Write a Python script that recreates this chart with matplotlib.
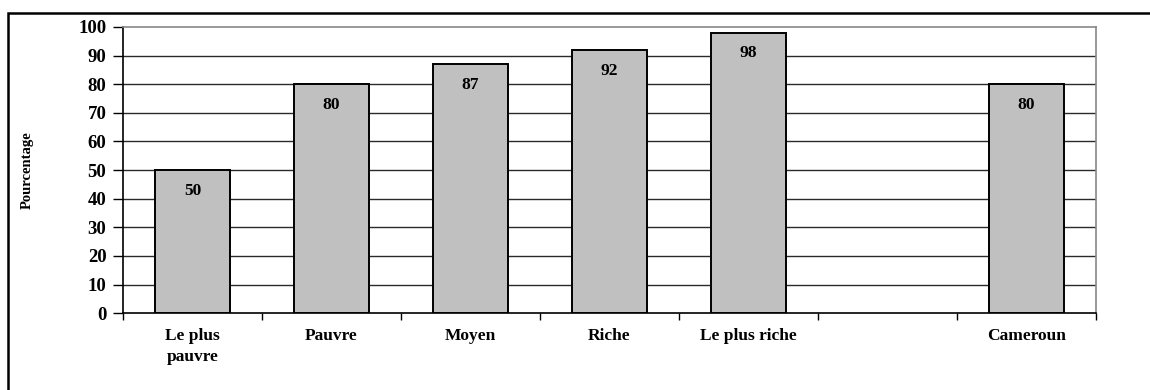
import matplotlib.pyplot as plt
from matplotlib.patches import Rectangle
from matplotlib.ticker import FixedLocator

# Quintiles de bien-être, puis une case vide, puis le total national
categories = ['Le plus\npauvre', 'Pauvre', 'Moyen', 'Riche', 'Le plus riche', '', 'Cameroun']
values = [50, 80, 87, 92, 98, None, 80]
y_ticks = list(range(0, 101, 10))

plt.rcParams['font.family'] = ['Liberation Serif', 'DejaVu Serif']

fig = plt.figure(figsize=(11.5, 3.9), dpi=100)
ax = fig.add_axes([0.107, 0.197, 0.846, 0.734])

# Cadre extérieur du graphique
fig.patches.append(Rectangle((0.007, -0.05), 1.05, 0.967 + 0.05, transform=fig.transFigure,
                             fill=False, edgecolor='black', linewidth=1.8, zorder=0))

slots = list(range(len(categories)))
for i, v in zip(slots, values):
    if v is None:
        continue
    ax.bar(i, v, width=0.54, color='#c0c0c0', edgecolor='black', linewidth=1.4, zorder=3)
    ax.annotate(str(v), (i, v), xytext=(0, -15), textcoords='offset points',
                ha='center', va='center', fontsize=12.5, fontweight='bold', zorder=4)

ax.set_xlim(-0.5, len(categories) - 0.5)
ax.set_ylim(0, 100)

# Quadrillage horizontal
for t in y_ticks[1:-1]:
    ax.axhline(t, color='#2a2a2a', linewidth=1.0, zorder=1)

ax.set_yticks(y_ticks)
ax.set_yticklabels([str(t) for t in y_ticks], fontsize=13.5, fontweight='bold')
ax.tick_params(axis='y', direction='out', length=7, width=1, pad=5)

# Graduations aux limites des classes, libellés au centre
ax.xaxis.set_major_locator(FixedLocator([s - 0.5 for s in slots] + [len(categories) - 0.5]))
ax.xaxis.set_major_formatter(plt.NullFormatter())
ax.xaxis.set_minor_locator(FixedLocator(slots))
ax.set_xticklabels(categories, minor=True, fontsize=12.5, fontweight='bold', linespacing=1.35)
ax.tick_params(axis='x', which='major', direction='out', length=5, width=1)
ax.tick_params(axis='x', which='minor', length=0, pad=11)

for side in ['left', 'bottom']:
    ax.spines[side].set_color('black')
    ax.spines[side].set_linewidth(1.2)
for side in ['top', 'right']:
    ax.spines[side].set_color('#888888')
    ax.spines[side].set_linewidth(1.2)

ax.set_ylabel('Pourcentage', fontsize=10.5, fontweight='bold')
ax.yaxis.set_label_coords(-0.092, 0.5)

plt.savefig('out.png', dpi=100)
plt.close()
